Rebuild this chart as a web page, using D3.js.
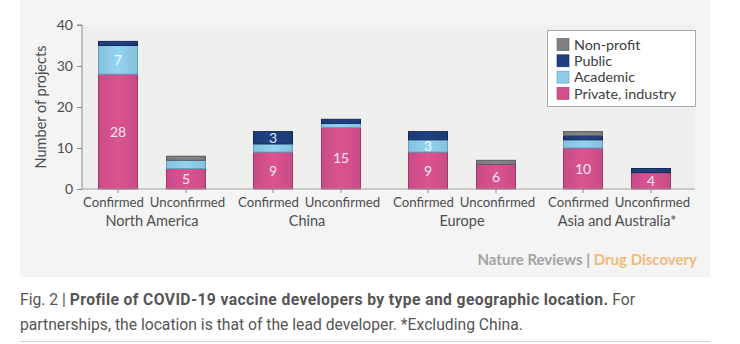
<!DOCTYPE html>
<html>
<head>
<meta charset="utf-8">
<script src="https://cdn.jsdelivr.net/npm/d3@7"></script>
<style>
  html, body { margin: 0; padding: 0; background: #ffffff; }
  svg { display: block; }
</style>
</head>
<body>
<svg id="chart" width="740" height="344"></svg>
<script>
// Regions and developer status
const regions = ["North America", "China", "Europe", "Asia and Australia*"];
const statuses = ["Confirmed", "Unconfirmed"];

// Developer types, stacked bottom to top
const types = ["Private, industry", "Academic", "Public", "Non-profit"];

// Project counts per bar (order: region × status)
const privateIndustry = [28, 5, 9, 15, 9, 6, 10, 4];
const academic        = [7, 2, 2, 1, 3, 0, 2, 0];
const publicSector    = [1, 0, 3, 1, 2, 0, 1, 1];
const nonProfit       = [0, 1, 0, 0, 0, 1, 1, 0];

const yTicks = [0, 10, 20, 30, 40];

const typeColors = ["#d3508c", "#8dcbe7", "#1f3f7e", "#808084"];
const typeStrokes = ["#a8336a", "#5f9fc0", "#142b5a", "#5c5c60"];

const rows = [];
regions.forEach((r, ri) => {
  statuses.forEach((s, si) => {
    const i = ri * 2 + si;
    rows.push({
      region: r, status: s,
      "Private, industry": privateIndustry[i],
      "Academic": academic[i],
      "Public": publicSector[i],
      "Non-profit": nonProfit[i]
    });
  });
});

const svg = d3.select("#chart");

// Figure panel
svg.append("rect").attr("x", 20).attr("y", 0).attr("width", 690).attr("height", 277)
  .attr("fill", "#f4f4f4");
svg.append("rect").attr("x", 82).attr("y", 25).attr("width", 613).attr("height", 164)
  .attr("fill", "#efefed");

const fontChart = "Lato, 'Open Sans', sans-serif";
const textColor = "#4d4d4d";

const x0 = d3.scaleBand().domain(regions).range([74.5, 694.5]).paddingInner(0).paddingOuter(0);
const x1 = d3.scalePoint().domain(statuses).range([43.5, 111.5]);
const barW = 39;
const y = d3.scaleLinear().domain([0, 40]).range([189, 25]);

// Bar gradient for a slight cylindrical sheen
const defs = svg.append("defs");
types.forEach((t, k) => {
  const g = defs.append("linearGradient").attr("id", "grad" + k)
    .attr("x1", "0%").attr("x2", "100%").attr("y1", "0%").attr("y2", "0%");
  const base = d3.color(typeColors[k]);
  g.append("stop").attr("offset", "0%").attr("stop-color", base.darker(0.15));
  g.append("stop").attr("offset", "50%").attr("stop-color", base.brighter(0.12));
  g.append("stop").attr("offset", "100%").attr("stop-color", base.darker(0.15));
});

const stack = d3.stack().keys(types);
const series = stack(rows);

const gBars = svg.append("g");
series.forEach((s, k) => {
  gBars.append("g").selectAll("rect")
    .data(s.filter(d => d[1] - d[0] > 0))
    .join("rect")
    .attr("x", d => x0(d.data.region) + x1(d.data.status) - barW / 2)
    .attr("y", d => y(d[1]))
    .attr("width", barW)
    .attr("height", d => y(d[0]) - y(d[1]))
    .attr("fill", `url(#grad${k})`)
    .attr("stroke", typeStrokes[k])
    .attr("stroke-width", 1);
});

// Value labels inside segments large enough to hold them
series.forEach((s, k) => {
  gBars.append("g").selectAll("text")
    .data(s.filter(d => d[1] - d[0] >= 3))
    .join("text")
    .attr("x", d => x0(d.data.region) + x1(d.data.status))
    .attr("y", d => y((d[0] + d[1]) / 2))
    .attr("dy", "0.36em")
    .attr("text-anchor", "middle")
    .attr("fill", "#ffffff")
    .attr("fill-opacity", 0.9)
    .attr("font-family", fontChart)
    .attr("font-size", 14)
    .text(d => d[1] - d[0]);
});

// Y axis
const yAxis = svg.append("g").attr("transform", "translate(82,0)")
  .call(d3.axisLeft(y).tickValues(yTicks).tickSize(5).tickPadding(4));
yAxis.select(".domain").attr("stroke", "#8a8a8a").attr("d", `M-5,${y(40)}H0V${y(0)}`);
yAxis.selectAll(".tick line").attr("stroke", "#8a8a8a");
yAxis.selectAll(".tick text").attr("fill", textColor).attr("font-family", fontChart).attr("font-size", 14);

// X axis baseline, ticks and status labels (pulled apart slightly so the pair reads clearly)
const statusShift = { "Confirmed": -4.5, "Unconfirmed": 1.5 };
const gx = svg.append("g");
gx.append("line").attr("x1", 82).attr("x2", 695).attr("y1", y(0)).attr("y2", y(0))
  .attr("stroke", "#a0a0a0");
rows.forEach(r => {
  const cx = x0(r.region) + x1(r.status);
  gx.append("line").attr("x1", cx).attr("x2", cx).attr("y1", y(0)).attr("y2", y(0) + 4)
    .attr("stroke", "#8a8a8a");
  gx.append("text").attr("x", cx + statusShift[r.status]).attr("y", 202).attr("dy", "0.36em")
    .attr("text-anchor", "middle").attr("fill", textColor)
    .attr("font-family", fontChart).attr("font-size", 13.2).text(r.status);
});
regions.forEach(r => {
  gx.append("text").attr("x", x0(r) + x0.bandwidth() / 2).attr("y", 221).attr("dy", "0.36em")
    .attr("text-anchor", "middle").attr("fill", textColor)
    .attr("font-family", fontChart).attr("font-size", 14.5).text(r);
});

// Y axis title
svg.append("text").attr("transform", "translate(41,107) rotate(-90)")
  .attr("text-anchor", "middle").attr("dy", "0.36em")
  .attr("fill", textColor).attr("font-family", fontChart).attr("font-size", 14.5)
  .text("Number of projects");

// Legend
const lg = svg.append("g");
lg.append("rect").attr("x", 547.5).attr("y", 30.5).attr("width", 148).attr("height", 76)
  .attr("fill", "#ffffff").attr("stroke", "#a8a8a8");
const legendOrder = ["Non-profit", "Public", "Academic", "Private, industry"];
legendOrder.forEach((t, i) => {
  const k = types.indexOf(t);
  const cy = 44.5 + i * 16.3;
  lg.append("rect").attr("x", 557).attr("y", cy - 6).attr("width", 12).attr("height", 12)
    .attr("fill", typeColors[k]).attr("stroke", typeStrokes[k]).attr("stroke-width", 0.6);
  lg.append("text").attr("x", 574).attr("y", cy).attr("dy", "0.36em")
    .attr("fill", "#3d3d3d").attr("font-family", fontChart).attr("font-size", 14.3).text(t);
});

// Journal mark
const mark = svg.append("text").attr("x", 697).attr("y", 260).attr("dy", "0.36em")
  .attr("text-anchor", "end").attr("font-family", fontChart).attr("font-size", 15)
  .attr("font-weight", "bold");
mark.append("tspan").attr("fill", "#a2a2a2").text("Nature Reviews | ");
mark.append("tspan").attr("fill", "#f2bb78").text("Drug Discovery");

// Caption
const cap = svg.append("g").attr("font-family", "Roboto, 'Liberation Sans', sans-serif")
  .attr("font-size", 15.7).attr("fill", "#555555");
const l1 = cap.append("text").attr("x", 20).attr("y", 305);
l1.append("tspan").text("Fig. 2 | ");
l1.append("tspan").attr("font-weight", "bold").attr("letter-spacing", 0.38)
  .text("Profile of COVID-19 vaccine developers by type and geographic location.");
l1.append("tspan").attr("letter-spacing", 0).text(" For");
cap.append("text").attr("x", 20).attr("y", 330)
  .text("partnerships, the location is that of the lead developer. *Excluding China.");

svg.append("line").attr("x1", 20).attr("x2", 710).attr("y1", 341.5).attr("y2", 341.5)
  .attr("stroke", "#cfcfcf");
</script>
</body>
</html>
